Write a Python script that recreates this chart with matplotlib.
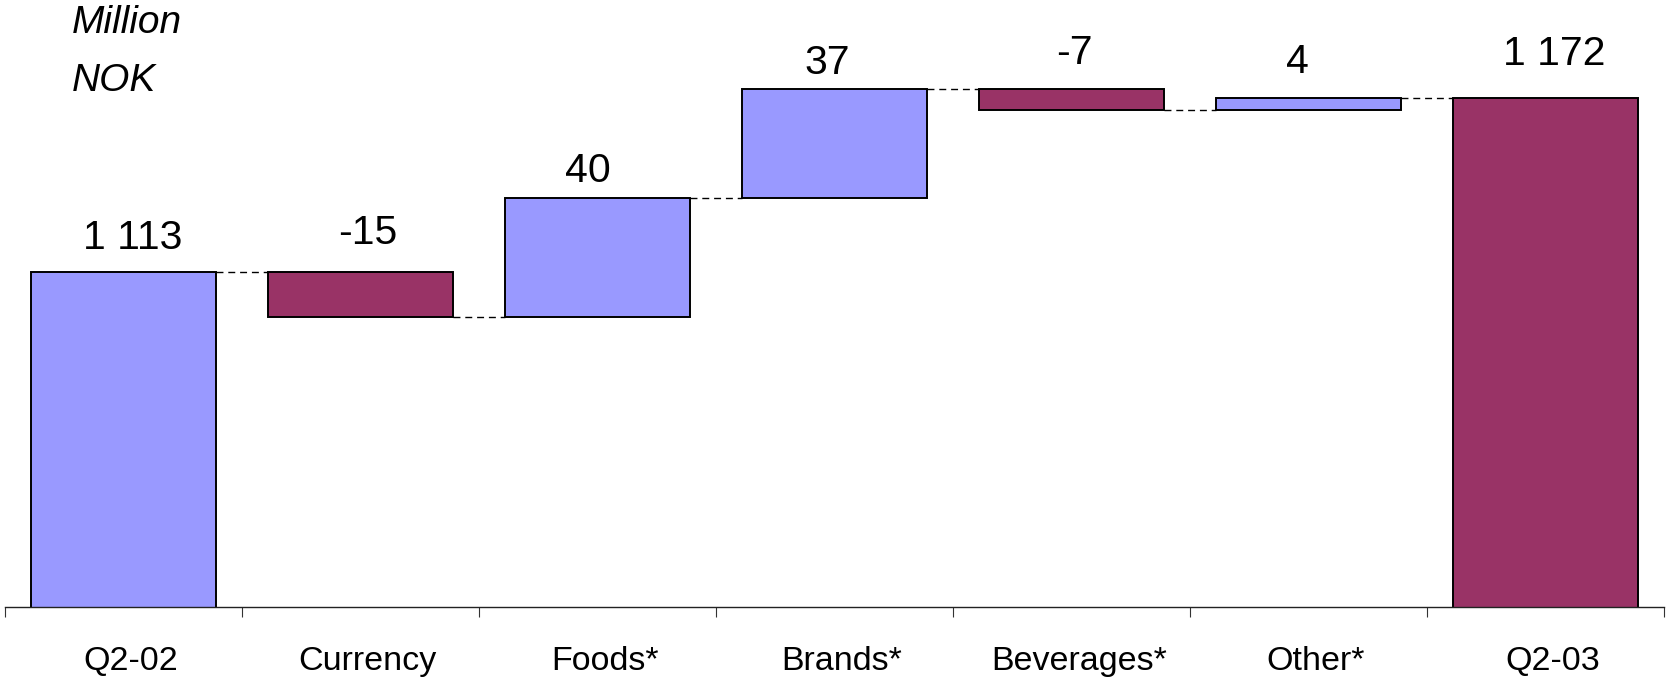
import matplotlib.pyplot as plt
import matplotlib.transforms as mtransforms

categories = ['Q2-02', 'Currency', 'Foods*', 'Brands*', 'Beverages*', 'Other*', 'Q2-03']
values = [1113, -15, 40, 37, -7, 4, 1172]
is_total = [True, False, False, False, False, False, True]
colors = ['#9999FF', '#993366', '#9999FF', '#9999FF', '#993366', '#9999FF', '#993366']

# label nudges (pixels): height above bar top, sideways shift
label_dy = [23, 28, 16, 15, 25, 25, 33]
label_dx = [9.5, 7, -10, -7, 2.5, -11, 8.5]

plt.rcParams['font.family'] = ['Liberation Sans', 'DejaVu Sans']

fig = plt.figure(figsize=(16.67, 6.81), dpi=100)
ax = fig.add_axes([5 / 1667, 0.1091, (1664.3 - 5) / 1667, 1 - 0.1091])

width = 0.78
running = 0
bottoms, tops = [], []
for i, v in enumerate(values):
    if is_total[i]:
        b, h = 0, v
        running = v
    else:
        b = running if v > 0 else running + v
        h = abs(v)
        running += v
    bottoms.append(b)
    tops.append(b + h)
    ax.bar(i, h, bottom=b, width=width, color=colors[i], edgecolor='black',
           linewidth=1.4, zorder=2)

# dashed connectors at the running level between neighbouring bars
level = 0
for i, v in enumerate(values[:-1]):
    level = v if is_total[i] else level + v
    ax.plot([i + width / 2, i + 1 - width / 2], [level, level], color='black',
            linewidth=1.0, linestyle=(0, (5, 3.5)), zorder=3)

for i, v in enumerate(values):
    txt = f"{v:,}".replace(",", " ")
    ax.annotate(txt, (i, tops[i]), xytext=(label_dx[i], label_dy[i]),
                textcoords='offset pixels', ha='center', va='baseline',
                fontsize=29.5)

ax.set_xlim(-0.5, len(categories) - 0.5)
ax.set_ylim(1000, 1205)

ax.set_xticks([i + 0.5 for i in range(-1, len(categories))])
ax.set_xticklabels([])
ax.set_xticks(range(len(categories)), minor=True)
ax.set_xticklabels(categories, minor=True, fontsize=24.5)
ax.tick_params(axis='x', which='major', direction='out', length=7.2, width=0.8,
               color='#333333')
ax.tick_params(axis='x', which='minor', length=0, pad=28)
shift = mtransforms.ScaledTranslation(7 / 100, 0, fig.dpi_scale_trans)
for lab in ax.get_xticklabels(minor=True):
    lab.set_transform(lab.get_transform() + shift)

ax.set_yticks([])
for s in ['left', 'right', 'top']:
    ax.spines[s].set_visible(False)
ax.spines['bottom'].set_linewidth(1.0)
ax.spines['bottom'].set_color('#222222')

fig.text(72 / 1667, 1 - 33.3 / 681, 'Million', fontsize=28, style='italic',
         va='baseline', ha='left')
fig.text(72 / 1667, 1 - 90.7 / 681, 'NOK', fontsize=28, style='italic',
         va='baseline', ha='left')

fig.savefig('out.png', dpi=100)
